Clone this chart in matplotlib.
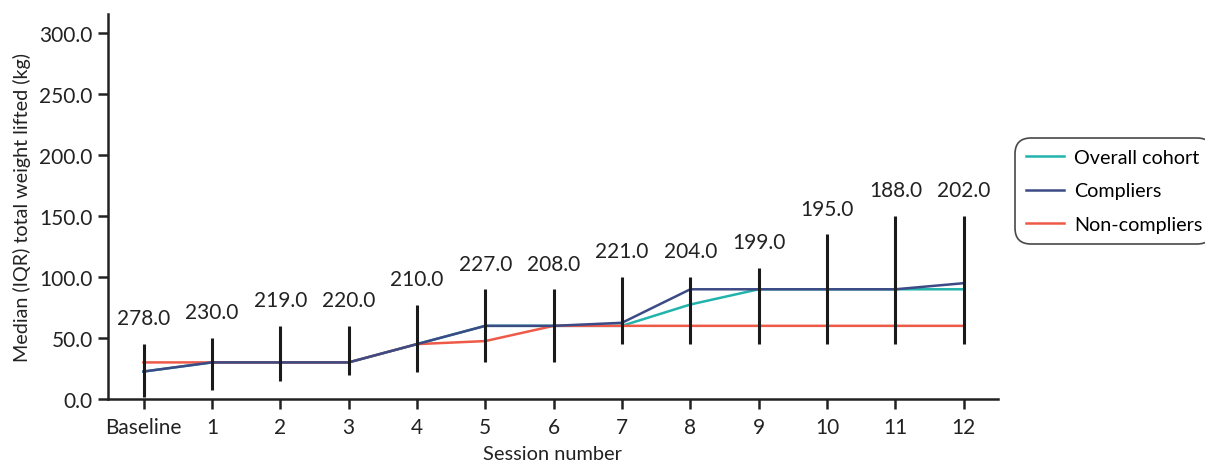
import matplotlib
matplotlib.use("Agg")
import matplotlib.pyplot as plt
import numpy as np

plt.rcParams['font.family'] = ['Lato', 'DejaVu Sans']
plt.rcParams['font.size'] = 15

sessions = ["Baseline", "1", "2", "3", "4", "5", "6", "7", "8", "9", "10", "11", "12"]
n_labels = [278.0, 230.0, 219.0, 220.0, 210.0, 227.0, 208.0, 221.0, 204.0, 199.0, 195.0, 188.0, 202.0]

overall_median = [22.5, 30, 30, 30, 45, 60, 60, 60, 77.5, 90, 90, 90, 90]
compliers_median = [22.5, 30, 30, 30, 45, 60, 60, 62.5, 90, 90, 90, 90, 95]
noncompliers_median = [30, 30, 30, 30, 45, 47.5, 60, 60, 60, 60, 60, 60, 60]

iqr_low = [1.5, 7.5, 15, 20, 22.5, 30, 30, 45, 45, 45, 45, 45, 45]
iqr_high = [45, 50, 60, 60, 77.5, 90, 90, 100, 100, 107.5, 135, 150, 150]

fig = plt.figure(figsize=(12.05, 4.64), dpi=100)
ax = fig.add_axes([0.0896, 0.138, 0.7385, 0.83])

x = np.arange(len(sessions))

ax.plot(x, overall_median, color="#22b3ac", lw=1.8, label="Overall cohort", zorder=3)
ax.plot(x, compliers_median, color="#3c4a86", lw=1.8, label="Compliers", zorder=4)
ax.plot(x, noncompliers_median, color="#ee5a48", lw=1.8, label="Non-compliers", zorder=3)

# IQR range bars
ax.vlines(x, iqr_low, iqr_high, color="#1a1a1a", lw=2.2, zorder=5)

# number of participants above each bar
for xi, top, n in zip(x, iqr_high, n_labels):
    ax.annotate(f"{n:.1f}", (xi, top), xytext=(0, 18.5), textcoords="offset points",
                ha="center", va="center", fontsize=15, color="#222222")

ax.set_xlim(-0.52, 12.5)
ax.set_ylim(0, 316)
ax.set_yticks(np.arange(0, 301, 50))
ax.set_yticklabels([f"{v:.1f}" for v in np.arange(0, 301, 50)])
ax.set_xticks(x)
ax.set_xticklabels(sessions)

for side in ("top", "right"):
    ax.spines[side].set_visible(False)
for side in ("left", "bottom"):
    ax.spines[side].set_linewidth(1.8)
    ax.spines[side].set_color("#222222")
ax.tick_params(axis="both", length=7, width=1.8, color="#222222", labelcolor="#222222", labelsize=15)
ax.tick_params(axis="x", pad=6)
ax.tick_params(axis="y", pad=4)

ax.set_xlabel("Session number", fontsize=14.4, color="#222222", labelpad=6)
ax.set_ylabel("Median (IQR) total weight lifted (kg)", fontsize=14.2, color="#222222", labelpad=6)

leg = fig.legend(loc="upper left", bbox_to_anchor=(0.834, 0.722), frameon=True,
                 fancybox=True, fontsize=14.2, handlelength=1.95, borderpad=0.55,
                 labelspacing=0.85, handletextpad=0.5)
leg.get_frame().set_edgecolor("#1a1a1a")
leg.get_frame().set_linewidth(1.2)
leg.get_frame().set_boxstyle("round", pad=0.0, rounding_size=0.8)

fig.savefig("out.png", dpi=100)
